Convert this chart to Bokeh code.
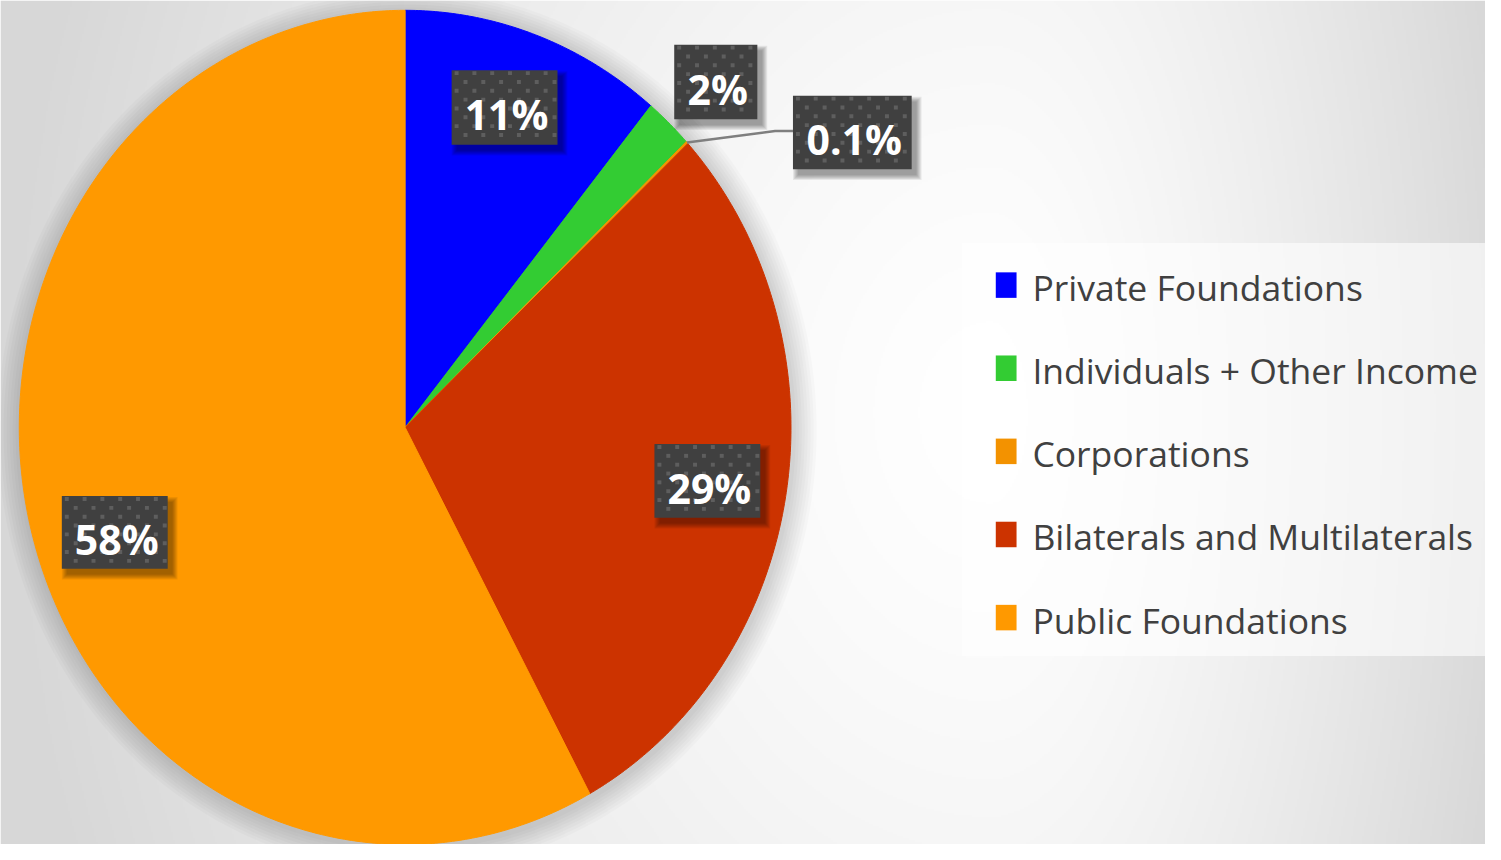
import numpy as np
from bokeh.plotting import figure
from bokeh.models import Range1d
from bokeh.core.properties import value
from bokeh.embed import file_html
from bokeh.resources import INLINE

# ---------------- data ----------------
categories = ["Private Foundations", "Individuals + Other Income", "Corporations",
              "Bilaterals and Multilaterals", "Public Foundations"]
shares = [11, 2, 0.1, 29, 58]
share_labels = ["11%", "2%", "0.1%", "29%", "58%"]
slice_colors = ["#0000FF", "#33CC33", "#F39200", "#CC3300", "#FF9900"]

# ---------------- layout (reference pixel coords) ----------------
W, H = 1485, 844
REF_W, REF_H = 1501, 860
CX, CY, RX, RY = 409, 435, 390, 425
# label boxes: centre x, centre y, width, height
label_boxes = [(509.5, 109, 107, 76), (723, 83, 84, 76), (861, 134.5, 120, 75),
               (714.5, 489.5, 107, 75), (115.5, 542, 107, 74)]
leader_elbow = (783, 133)
LEG_X0, LEG_X1, LEG_Y0, LEG_Y1 = 972, 1501, 247, 668
LEG_ROW0, LEG_STEP = 291, 84.7


def Y(y):
    return REF_H - np.asarray(y, dtype=float)


p = figure(width=W, height=H, x_range=Range1d(0, REF_W), y_range=Range1d(0, REF_H),
           output_backend="svg", toolbar_location=None, min_border=0)
p.axis.visible = False
p.grid.visible = False
p.outline_line_color = None
p.background_fill_color = "white"
p.border_fill_color = "white"

# ---------------- background gradient ----------------
nx, ny = 751, 430
jx = (np.arange(nx) + 0.5) * REF_W / nx
iy = REF_H - (np.arange(ny) + 0.5) * REF_H / ny
XX, YY = np.meshgrid(jx, iy)
rx = np.where(XX < 1000, 1000.0, 540.0)
f = np.sqrt(((XX - 1000) / rx) ** 2 + ((YY - 420) / 1300) ** 2)
f = np.clip(f, 0, 1) ** 1.4
v = (255 - 40 * f).astype(np.uint8)
rgba = np.zeros((ny, nx, 4), dtype=np.uint8)
rgba[..., 0] = v
rgba[..., 1] = v
rgba[..., 2] = v
rgba[..., 3] = 255
img = rgba.view(np.uint32).reshape(ny, nx)
p.image_rgba(image=[img], x=0, y=0, dw=REF_W, dh=REF_H)

# ---------------- pie shadow ----------------
t = np.linspace(0, 2 * np.pi, 400)
for k in range(8):
    d = 3 + 3 * k
    p.patch(CX + 2 + (RX + d) * np.sin(t), Y(CY + 3 - (RY + d) * np.cos(t)),
            fill_color="black", fill_alpha=0.018, line_color=None)

# ---------------- pie slices (elliptical) ----------------
total = float(sum(shares))
cum = np.concatenate([[0.0], np.cumsum(shares)]) / total * 2 * np.pi
xs, ys = [], []
for a0, a1 in zip(cum[:-1], cum[1:]):
    n = max(3, int(np.degrees(a1 - a0) * 2))
    a = np.linspace(a0, a1, n)
    px = np.concatenate([[CX], CX + RX * np.sin(a)])
    py = np.concatenate([[CY], CY - RY * np.cos(a)])
    xs.append(list(px))
    ys.append(list(Y(py)))
p.patches(xs, ys, fill_color=slice_colors, line_color=slice_colors, line_width=1)

# ---------------- leader line for the tiny slice ----------------
mid_small = (cum[2] + cum[3]) / 2
sx, sy = CX + RX * np.sin(mid_small), CY - RY * np.cos(mid_small)
bx = label_boxes[2][0] - label_boxes[2][2] / 2
p.line([sx, leader_elbow[0], bx], list(Y([sy, leader_elbow[1], leader_elbow[1]])),
       line_color="#7F7F7F", line_width=2.5)

# ---------------- data labels ----------------
for (bxc, byc, bw, bh), lab in zip(label_boxes, share_labels):
    # soft drop shadow
    for k in range(6):
        p.rect(bxc + 5, Y(byc + 6), bw + 2 * k, bh + 2 * k,
               fill_color="black", fill_alpha=0.07, line_color=None)
    p.rect(bxc, Y(byc), bw, bh, fill_color="#404040", line_color=None)
    # staggered dot pattern
    left, top = bxc - bw / 2, byc - bh / 2
    dx_, dy_ = [], []
    r = 0
    yy = top + 3
    while yy < top + bh - 1:
        xx = left + 5 + (9 if r % 2 else 0)
        while xx < left + bw - 1:
            dx_.append(xx)
            dy_.append(yy)
            xx += 18
        yy += 9
        r += 1
    p.rect(dx_, Y(dy_), 4, 4, fill_color="#5E5E5E", line_color=None)
    p.text([bxc + 2], Y([byc + 7]), text=[lab], text_align="center", text_baseline="middle",
           text_color="white", text_font=value("Open Sans"), text_font_style="bold",
           text_font_size="41px")

# ---------------- legend ----------------
p.quad(left=LEG_X0, right=LEG_X1, top=Y(LEG_Y0), bottom=Y(LEG_Y1),
       fill_color="white", fill_alpha=0.6, line_color=None)
for i, (cat, col) in enumerate(zip(categories, slice_colors)):
    yr = LEG_ROW0 + i * LEG_STEP
    p.rect(1016.5, Y(yr - 1), 21, 26, fill_color=col, line_color=None)
    p.text([1043], Y([yr + 1]), text=[cat], text_align="left", text_baseline="middle",
           text_color="#404040", text_font=value("Open Sans"), text_font_size="35.5px")

open("out.html", "w").write(file_html(p, INLINE))
